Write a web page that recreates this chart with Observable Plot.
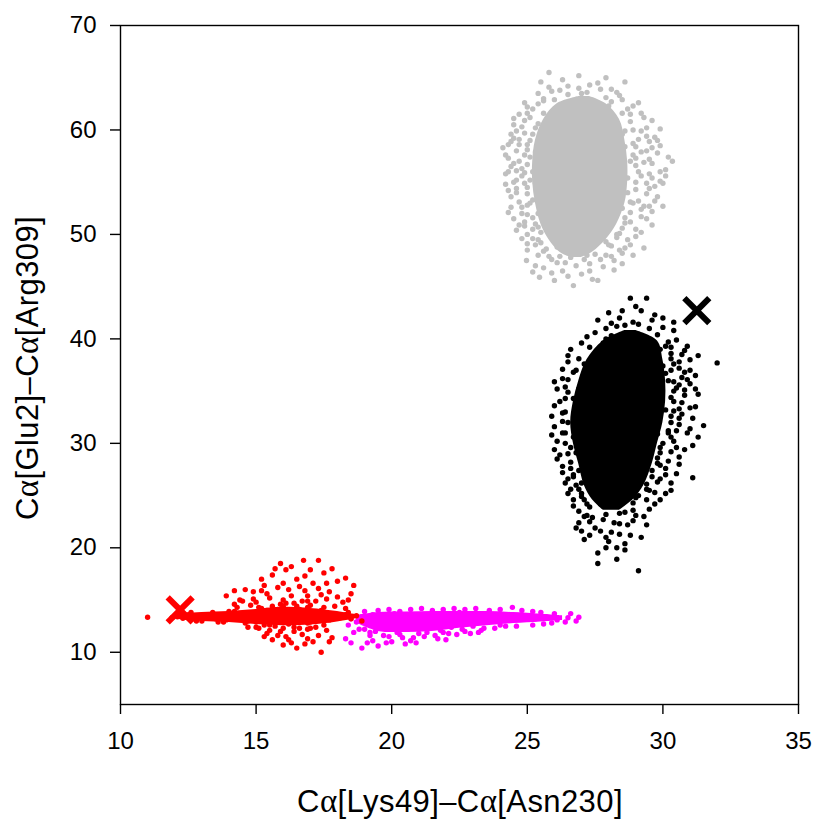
<!DOCTYPE html>
<html>
<head>
<meta charset="utf-8">
<script src="https://cdn.jsdelivr.net/npm/d3@7"></script>
<script src="https://cdn.jsdelivr.net/npm/@observablehq/plot@0.6"></script>
<style>
  html, body { margin: 0; padding: 0; background: #fff; }
  #chart { width: 817px; height: 819px; }
</style>
</head>
<body>
<div id="chart"></div>
<script>
// ---- data ----
const xTicks = [10, 15, 20, 25, 30, 35];
const yTicks = [10, 20, 30, 40, 50, 60, 70];
const xLabel = ["C", "α", "[Lys49]–C", "α", "[Asn230]"];
const yLabel = ["C", "α", "[Glu2]–C", "α", "[Arg309]"];

// solid (saturated) cores of the clouds, read as envelopes
const grayCoreY  = [63.2, 62.5, 61.0, 59.0, 57.0, 55.0, 53.0, 51.0, 49.5, 48.3, 47.8];
const grayCoreX1 = [26.9, 26.1, 25.6, 25.3, 25.2, 25.2, 25.3, 25.5, 25.8, 26.2, 26.6];
const grayCoreX2 = [27.3, 27.9, 28.4, 28.6, 28.7, 28.7, 28.6, 28.3, 27.9, 27.4, 27.0];

const blackCoreY  = [40.8, 39.8, 38.0, 36.0, 34.0, 32.0, 30.0, 28.0, 26.0, 24.6, 23.6];
const blackCoreX1 = [28.6, 27.8, 27.2, 26.9, 26.7, 26.6, 26.7, 26.9, 27.1, 27.4, 27.8];
const blackCoreX2 = [29.0, 29.8, 30.0, 30.1, 30.1, 30.0, 29.8, 29.6, 29.3, 28.9, 28.4];

const redCoreX  = [11.9, 12.4, 13.0, 14.0, 15.0, 16.0, 17.0, 18.0, 18.7];
const redCoreY1 = [13.25, 13.05, 12.95, 12.85, 12.65, 12.55, 12.6, 12.9, 13.2];
const redCoreY2 = [13.45, 13.7, 13.8, 13.9, 14.1, 14.3, 14.2, 13.9, 13.6];

const magentaCoreX  = [18.7, 19.5, 20.5, 21.5, 22.5, 23.5, 24.5, 25.5, 26.3];
const magentaCoreY1 = [12.8, 12.0, 11.9, 12.0, 12.3, 12.55, 12.75, 12.9, 13.05];
const magentaCoreY2 = [13.5, 13.8, 13.85, 13.9, 13.9, 13.9, 13.8, 13.65, 13.5];

// individual points: flat lists x, y, x, y, ...
const grayPts = [
  25.6,62.8, 26.2,62.3, 26.9,62.9, 27.5,62.4, 28.1,62.7, 26.5,63.4, 27.2,63.6,
  25.1,61.2, 25.8,60.8, 28.3,60.7, 28.8,61.5, 24.9,59.7, 25.5,59.2, 28.5,59.6, 29.1,59.1,
  25.0,58.1, 28.6,58.4, 29.2,57.9, 24.8,56.3, 25.4,56.8, 29.0,56.6, 25.1,55.2, 28.7,55.4, 29.4,54.9,
  25.2,53.3, 28.8,53.1, 25.0,51.9, 28.6,51.6, 29.2,52.4, 25.4,50.7, 28.4,50.1,
  25.5,49.2, 26.1,48.8, 27.3,48.9, 27.9,49.3, 28.6,48.7,
  24.5,60.5, 24.3,57.3, 24.6,55.2, 24.4,53.6, 24.7,50.9, 25.0,48.5, 25.3,47.0, 25.9,46.3,
  26.4,47.3, 27.0,46.2, 27.8,46.9, 28.2,47.5, 29.0,49.8, 29.6,50.9, 29.8,53.6, 29.9,56.0,
  29.6,58.3, 29.4,60.2, 28.9,62.3, 28.3,63.6, 27.7,63.9, 25.4,63.5, 25.0,62.2, 24.7,61.5,
  25.8,65.5, 26.3,64.8, 27.3,64.3, 28.6,64.6, 25.8,64.1, 24.1,58.3, 24.3,52.1, 30.35,57.0,
  30.0,54.9, 30.0,52.7, 29.3,48.7, 27.6,45.6, 26.7,45.1, 26.0,45.6, 25.45,45.9, 24.97,47.5,
  24.5,59.2, 29.3,61.2, 29.7,59.3, 28.5,48.2, 28.9,48.0,
  25.2,62.0, 24.9,60.9, 25.3,60.2, 24.6,59.9, 25.1,59.0, 24.7,58.6, 25.3,57.9, 24.9,57.6,
  24.5,56.8, 25.2,56.0, 24.8,55.6, 25.0,54.5, 24.6,54.0, 25.3,54.9, 25.1,53.0, 24.8,52.6,
  25.4,52.0, 24.9,51.2, 25.3,51.0, 25.5,50.2, 25.2,49.6, 25.7,48.6, 25.4,48.0, 25.9,47.6,
  26.2,47.9, 26.6,47.8, 27.1,47.6, 27.5,48.1, 27.9,48.0, 28.1,48.9, 28.3,49.7, 28.5,50.6,
  28.8,51.2, 28.5,52.5, 29.1,53.2, 28.7,54.0, 29.2,55.6, 28.8,57.0, 29.3,56.9, 28.9,58.7,
  29.5,57.2, 28.6,59.9, 29.2,59.9, 28.5,61.6, 28.0,62.3, 27.9,63.1, 26.0,62.9, 25.6,63.0,
  26.2,63.8, 26.9,64.0, 27.4,62.8, 29.8,57.8, 30.1,56.2, 29.6,52.2, 29.5,55.8, 24.4,58.9,
  24.2,55.8, 28.2,46.6, 26.3,46.5, 27.3,47.2,
  25.9,63.7, 26.5,64.2, 27.0,63.5, 27.6,64.5, 28.1,63.9, 28.4,63.3, 25.5,64.6, 27.9,65.0, 26.9,65.2,
  25.4,62.5, 25.6,61.6, 24.9,62.6, 28.5,62.9, 28.7,62.0, 29.1,62.6,
  25.0,61.6, 25.4,60.6, 24.5,61.1, 28.8,60.8, 29.2,61.6, 29.6,60.9,
  24.8,60.3, 25.2,59.6, 24.4,59.6, 28.9,60.0, 29.4,59.4, 29.9,60.1,
  24.7,59.1, 25.0,58.6, 24.3,58.6, 29.0,58.4, 29.5,58.9, 29.8,59.0,
  24.6,58.0, 25.1,57.4, 24.2,57.6, 28.9,57.6, 29.4,58.0, 29.9,58.5,
  24.7,57.0, 24.4,56.5, 25.0,56.7, 29.0,57.3, 29.6,56.8, 30.2,57.4,
  24.6,56.1, 24.9,55.9, 24.3,56.0, 29.1,56.0, 29.6,55.4, 30.1,55.6,
  24.5,55.0, 24.9,54.9, 24.2,54.8, 29.0,55.0, 29.5,54.4, 29.9,55.1,
  24.6,54.4, 25.0,53.9, 24.3,54.2, 29.0,54.3, 29.4,53.9, 29.7,54.6,
  24.7,53.1, 25.0,52.8, 24.4,52.6, 28.9,53.0, 29.3,52.7, 29.7,53.2,
  24.8,52.0, 25.2,51.6, 24.5,51.5, 28.8,52.1, 29.2,51.7, 29.5,52.7,
  24.9,50.8, 25.2,50.5, 24.6,50.4, 28.6,51.1, 29.0,50.5, 29.4,51.5,
  25.0,50.0, 25.4,49.5, 24.8,49.6, 28.3,50.0, 28.7,49.5, 29.2,50.2,
  25.3,49.0, 25.6,48.4, 25.0,49.1, 28.0,49.0, 28.4,48.5, 28.8,49.0,
  25.8,47.9, 26.1,47.3, 25.6,46.8, 26.8,47.0, 27.3,46.5, 27.7,47.6, 28.1,47.9, 26.5,46.0,
  27.4,45.7, 28.5,47.2, 25.2,46.4, 26.9,48.3, 27.2,48.0
];

const blackPts = [
  27.8,39.6, 29.0,39.8, 29.6,39.3, 30.2,39.7, 28.9,40.6, 29.5,41.0, 28.3,41.2,
  27.4,38.1, 29.8,38.2, 30.4,37.6, 27.1,36.4, 30.1,36.7, 30.7,36.3,
  26.9,35.2, 30.5,35.3, 26.8,33.4, 30.4,33.1, 26.9,31.9, 30.6,31.8,
  26.7,30.6, 30.3,30.6, 26.8,29.1, 29.8,28.6, 26.9,27.4, 29.9,27.9,
  27.0,26.2, 29.4,26.1, 27.1,24.6, 27.7,24.2, 28.3,24.7, 28.9,24.3,
  27.2,23.1, 27.8,22.7, 28.4,23.3, 27.5,21.9, 28.1,21.5, 28.7,22.2,
  26.3,36.2, 26.1,30.2, 26.4,33.0, 26.3,27.8, 26.5,25.2, 26.6,39.0, 27.2,40.2, 27.6,41.8,
  28.0,42.5, 28.8,43.9, 29.4,43.9, 30.0,42.0, 30.4,40.8, 30.9,39.3, 31.3,38.4, 32.0,37.7,
  31.2,35.2, 31.5,31.7, 31.0,33.4, 31.1,29.8, 31.1,26.7, 30.6,28.0, 30.3,25.5, 29.9,24.6,
  29.5,23.7, 29.2,21.0, 28.6,20.4, 27.1,20.8, 26.9,22.4, 26.7,24.0, 29.1,17.8, 27.6,18.5,
  28.3,18.9, 27.9,20.0,
  26.5,37.8, 26.8,37.0, 26.4,35.4, 26.7,34.3, 26.2,34.0, 26.5,32.0, 26.4,31.0, 26.6,29.6,
  26.2,28.9, 26.6,28.2, 26.7,26.8, 26.9,25.6, 26.4,26.2, 27.0,24.9, 26.9,23.5, 27.3,23.9,
  29.9,39.0, 30.3,38.6, 30.0,37.4, 30.6,37.2, 30.2,36.0, 30.9,36.1, 30.3,34.4, 30.8,34.6,
  30.1,33.2, 30.7,32.8, 30.2,31.2, 30.9,31.0, 29.8,30.9, 30.5,29.6, 29.9,29.6, 30.2,28.3,
  29.6,27.4, 30.1,27.0, 29.5,25.5, 29.8,26.3, 29.0,24.8, 29.3,23.0, 28.9,23.6, 28.4,22.3,
  28.8,21.2, 27.9,21.0, 27.3,22.5, 27.0,21.6,
  28.1,40.3, 28.6,40.0, 29.3,40.2, 29.8,40.4, 28.4,42.0, 28.9,41.6, 29.7,42.3, 27.9,41.0,
  30.3,39.2, 30.7,38.5, 31.0,37.0,
  28.1,41.5, 28.6,41.3, 29.1,41.4, 29.6,41.8, 30.0,41.1, 28.5,42.7, 29.2,42.7, 27.5,40.6,
  27.9,40.0, 30.4,41.6, 29.0,43.1,
  27.3,39.2, 27.0,39.6, 30.1,39.3, 30.5,39.9, 30.8,38.9,
  26.9,38.1, 26.5,38.4, 27.1,37.6, 30.3,38.1, 30.6,37.8, 31.0,38.0,
  26.7,36.8, 26.3,37.1, 30.3,37.0, 30.8,36.8, 31.2,36.5,
  26.5,36.1, 26.0,35.9, 30.4,35.9, 30.6,35.6, 31.0,35.7,
  26.5,34.9, 26.1,35.2, 30.4,35.0, 30.8,35.1, 31.3,34.7,
  26.4,34.3, 26.0,33.6, 30.4,34.0, 30.7,33.9, 31.2,33.5,
  26.3,32.9, 25.9,32.6, 30.3,32.6, 30.6,33.3, 31.1,32.4,
  26.3,32.1, 26.0,31.6, 30.3,32.0, 30.6,32.4, 31.0,31.4,
  26.3,31.0, 25.9,30.8, 30.2,31.0, 30.5,31.2, 31.3,30.6,
  26.4,30.0, 26.0,29.4, 30.0,30.0, 30.4,30.2, 30.8,29.4,
  26.5,29.0, 26.1,28.5, 29.9,29.1, 30.3,29.2, 30.6,28.7,
  26.6,27.6, 26.3,27.2, 29.8,28.1, 30.1,27.6, 30.5,27.1,
  26.7,27.0, 26.5,26.6, 29.6,26.8, 29.9,26.6, 30.3,26.2,
  26.8,26.0, 26.6,25.6, 29.4,25.6, 29.7,25.3, 30.1,25.2,
  27.0,25.2, 26.7,24.6, 29.1,25.0, 29.4,24.6, 29.7,24.2,
  27.2,24.2, 27.1,23.0, 27.4,22.9, 27.9,23.2, 28.6,23.4, 29.0,23.1, 28.2,22.4, 27.7,21.6,
  28.4,21.3, 28.9,22.6, 27.3,21.2, 28.0,20.6, 27.6,19.5, 28.6,19.8, 26.8,21.9, 29.4,22.2,
  28.3,20.0
];

const redPts = [
  11.9,13.3, 12.1,13.4, 12.3,13.25, 12.5,13.6, 12.7,13.2, 12.9,13.5, 13.1,13.3, 13.3,13.6,
  13.5,13.2, 13.7,13.5, 13.9,13.1, 14.1,13.6, 14.3,13.3, 14.5,13.7, 14.7,13.0, 14.9,13.4,
  15.1,13.8, 15.3,13.1, 15.5,13.5, 15.7,12.9, 15.9,13.7, 16.1,13.2, 16.3,13.9, 16.5,13.0,
  16.7,13.5, 16.9,12.8, 17.1,13.8, 17.3,13.3, 17.5,13.6, 17.7,13.1, 17.9,13.5, 18.1,13.3,
  18.3,13.6, 18.5,13.2,
  14.2,13.9, 14.6,12.8, 15.0,12.9, 15.4,14.0, 15.8,14.1, 16.2,12.7, 16.6,14.1, 17.0,12.9,
  17.4,14.0, 15.5,12.6, 16.0,14.4, 16.4,12.4, 15.1,14.3, 16.9,14.3,
  11.0,13.35, 18.7,13.5, 18.9,13.0, 18.4,13.8,
  13.9,15.4, 14.4,15.0, 14.9,15.8, 15.3,16.4, 15.6,17.4, 15.9,18.5, 16.2,16.0, 16.5,17.0,
  16.75,18.8, 16.9,15.4, 17.1,16.6, 17.3,18.8, 17.5,17.6, 17.7,15.8, 18.0,16.8, 18.3,17.1,
  18.6,16.4, 14.6,16.0, 15.0,14.8, 15.5,15.2, 16.0,15.0, 16.4,14.7, 16.8,15.9, 17.2,14.9,
  17.6,15.1, 18.2,14.8, 15.2,17.0, 16.1,17.9, 16.6,16.3, 17.0,17.9, 15.8,16.2, 16.3,18.2,
  17.8,18.0, 14.2,14.6, 18.5,15.6, 15.9,14.6, 16.7,14.9,
  15.1,12.3, 15.4,11.8, 15.6,11.2, 15.9,12.0, 16.1,11.5, 16.3,10.9, 16.5,10.4, 16.7,11.7,
  16.9,12.2, 17.1,11.0, 17.3,11.6, 17.4,10.0, 17.6,12.1, 17.8,11.4, 15.7,12.5, 16.4,12.0,
  14.7,12.4, 15.3,12.6, 16.0,10.7, 16.8,10.8, 17.2,12.4,
  14.3,14.3, 14.8,14.5, 15.2,14.2, 15.6,14.4, 16.1,14.7, 16.5,14.4, 17.0,14.5, 17.5,14.3,
  17.9,14.4, 18.3,14.2, 14.9,15.1, 15.4,15.6, 16.3,15.4, 16.9,14.9, 17.4,15.5, 18.0,15.3,
  15.2,15.9, 16.0,16.6, 17.3,16.1, 16.8,17.3, 15.7,18.0, 17.6,16.6, 14.2,15.9, 18.4,15.0,
  14.5,14.9, 15.0,12.4, 15.5,12.1, 16.0,12.3, 16.6,12.3, 17.0,12.3, 17.5,12.6, 16.2,11.2,
  15.8,11.6, 16.9,11.3, 17.7,11.0, 15.3,11.5, 12.6,13.8, 13.0,13.0, 13.4,13.8, 13.8,12.9,
  14.0,13.9, 13.6,12.9, 12.2,13.6, 12.8,13.0
];

const magentaPts = [
  18.9,13.4, 19.3,13.6, 19.7,13.3, 20.1,13.7, 20.5,13.4, 20.9,13.6, 21.3,13.3, 21.7,13.7,
  22.1,13.4, 22.5,13.8, 22.9,13.5, 23.3,13.7, 23.7,13.4, 24.1,13.6, 24.5,13.3, 24.9,13.5,
  25.3,13.2, 25.7,13.4, 26.1,13.1, 26.5,13.3, 26.9,13.35,
  18.7,12.9, 19.1,12.7, 25.1,13.2,
  19.0,12.2, 19.4,12.0, 19.8,12.3, 20.2,11.9, 20.6,12.2, 21.0,11.8, 21.4,12.3, 21.8,12.1,
  22.2,12.4, 22.6,12.2, 23.0,12.5,
  18.3,11.3, 18.9,10.4, 19.3,11.1, 19.7,11.6, 20.0,11.0, 20.4,11.4, 20.9,10.9, 21.2,11.5,
  21.7,11.3, 22.4,11.7, 22.9,11.8, 20.5,10.8, 19.5,10.6, 18.6,11.9,
  19.5,14.0, 20.3,13.9, 21.5,14.0, 22.7,14.1, 23.6,14.0, 24.45,14.3, 25.5,13.8, 26.0,13.7,
  18.5,13.2, 24.0,12.6, 25.9,12.8, 26.4,12.9, 23.4,12.3, 24.2,12.5, 25.2,12.6, 18.4,12.6,
  19.2,11.6, 20.8,11.4, 21.9,11.9,
  19.0,13.9, 19.9,14.1, 20.7,14.1, 21.1,14.2, 21.9,14.1, 22.3,14.2, 23.1,14.2, 24.0,14.1,
  24.8,14.0, 25.2,13.9, 26.6,13.7, 26.8,13.0, 18.8,12.2, 19.2,11.9, 19.9,11.5, 20.3,11.7,
  20.7,11.1, 21.3,11.9, 21.6,11.6, 22.1,11.8, 22.7,12.0, 23.3,12.1, 23.8,12.3, 24.6,12.5,
  19.1,10.9, 19.8,10.9, 18.5,10.9, 22.0,11.2, 23.2,11.9, 25.6,12.7
];

const blackCross = [31.25, 42.7];
const redCross = [12.2, 14.05];

// ---- reshaping helpers ----
const pairs = (flat) => d3.range(0, flat.length, 2).map(i => ({x: flat[i], y: flat[i + 1]}));
const vEnvelope = (Y, X1, X2) => Y.map((y, i) => ({y, x1: X1[i], x2: X2[i]}));
const hEnvelope = (X, Y1, Y2) => X.map((x, i) => ({x, y1: Y1[i], y2: Y2[i]}));

const C = {gray: "#c0c0c0", black: "#000000", red: "#ff0000", magenta: "#ff00ff"};

const crosses = [
  {x: blackCross[0], y: blackCross[1], c: C.black},
  {x: redCross[0], y: redCross[1], c: C.red}
];

const dotR = 2.7;

const chart = Plot.plot({
  width: 817,
  height: 819,
  marginLeft: 120,
  marginRight: 19,
  marginTop: 25,
  marginBottom: 115,
  style: {fontFamily: "'Liberation Sans', Arial, sans-serif", fontSize: "24px", background: "#fff", color: "#000"},
  x: {domain: [10, 35]},
  y: {domain: [5, 70]},
  marks: [
    Plot.areaX(vEnvelope(grayCoreY, grayCoreX1, grayCoreX2), {y: "y", x1: "x1", x2: "x2", fill: C.gray, curve: "catmull-rom"}),
    Plot.dot(pairs(grayPts), {x: "x", y: "y", r: dotR, fill: C.gray}),
    Plot.areaX(vEnvelope(blackCoreY, blackCoreX1, blackCoreX2), {y: "y", x1: "x1", x2: "x2", fill: C.black, curve: "catmull-rom"}),
    Plot.dot(pairs(blackPts), {x: "x", y: "y", r: dotR, fill: C.black}),
    Plot.areaY(hEnvelope(magentaCoreX, magentaCoreY1, magentaCoreY2), {x: "x", y1: "y1", y2: "y2", fill: C.magenta, curve: "catmull-rom"}),
    Plot.dot(pairs(magentaPts), {x: "x", y: "y", r: dotR, fill: C.magenta}),
    Plot.areaY(hEnvelope(redCoreX, redCoreY1, redCoreY2), {x: "x", y1: "y1", y2: "y2", fill: C.red, curve: "catmull-rom"}),
    Plot.dot(pairs(redPts), {x: "x", y: "y", r: dotR, fill: C.red}),
    Plot.dot(crosses, {x: "x", y: "y", symbol: "times", r: 11.4, stroke: "c", strokeWidth: 6}),
    Plot.frame({stroke: "#000", strokeWidth: 1.4}),
    Plot.axisX({ticks: xTicks, tickSize: 10, tickPadding: 17, strokeWidth: 1.4, label: null, tickFormat: d => d}),
    Plot.axisY({ticks: yTicks, tickSize: 10, tickPadding: 14, strokeWidth: 1.4, label: null, tickFormat: d => d})
  ]
});

document.getElementById("chart").appendChild(chart);

// axis titles as real text with a serif alpha
const svg = d3.select(chart);
function addLabel(parts, attrs) {
  const t = svg.append("text")
    .attr("fill", "#000")
    .attr("font-family", "'Liberation Sans', Arial, sans-serif")
    .attr("font-size", 31)
    .attr("letter-spacing", "0.4px")
    .attr("text-anchor", "middle");
  for (const [k, v] of Object.entries(attrs)) t.attr(k, v);
  parts.forEach(p => {
    const s = t.append("tspan").text(p);
    if (p === "α") s.attr("font-family", "'Liberation Serif', 'DejaVu Serif', serif").attr("font-size", 33);
  });
}
addLabel(xLabel, {x: 460, y: 812});
addLabel(yLabel, {transform: "translate(38,368) rotate(-90)"});
</script>
</body>
</html>
